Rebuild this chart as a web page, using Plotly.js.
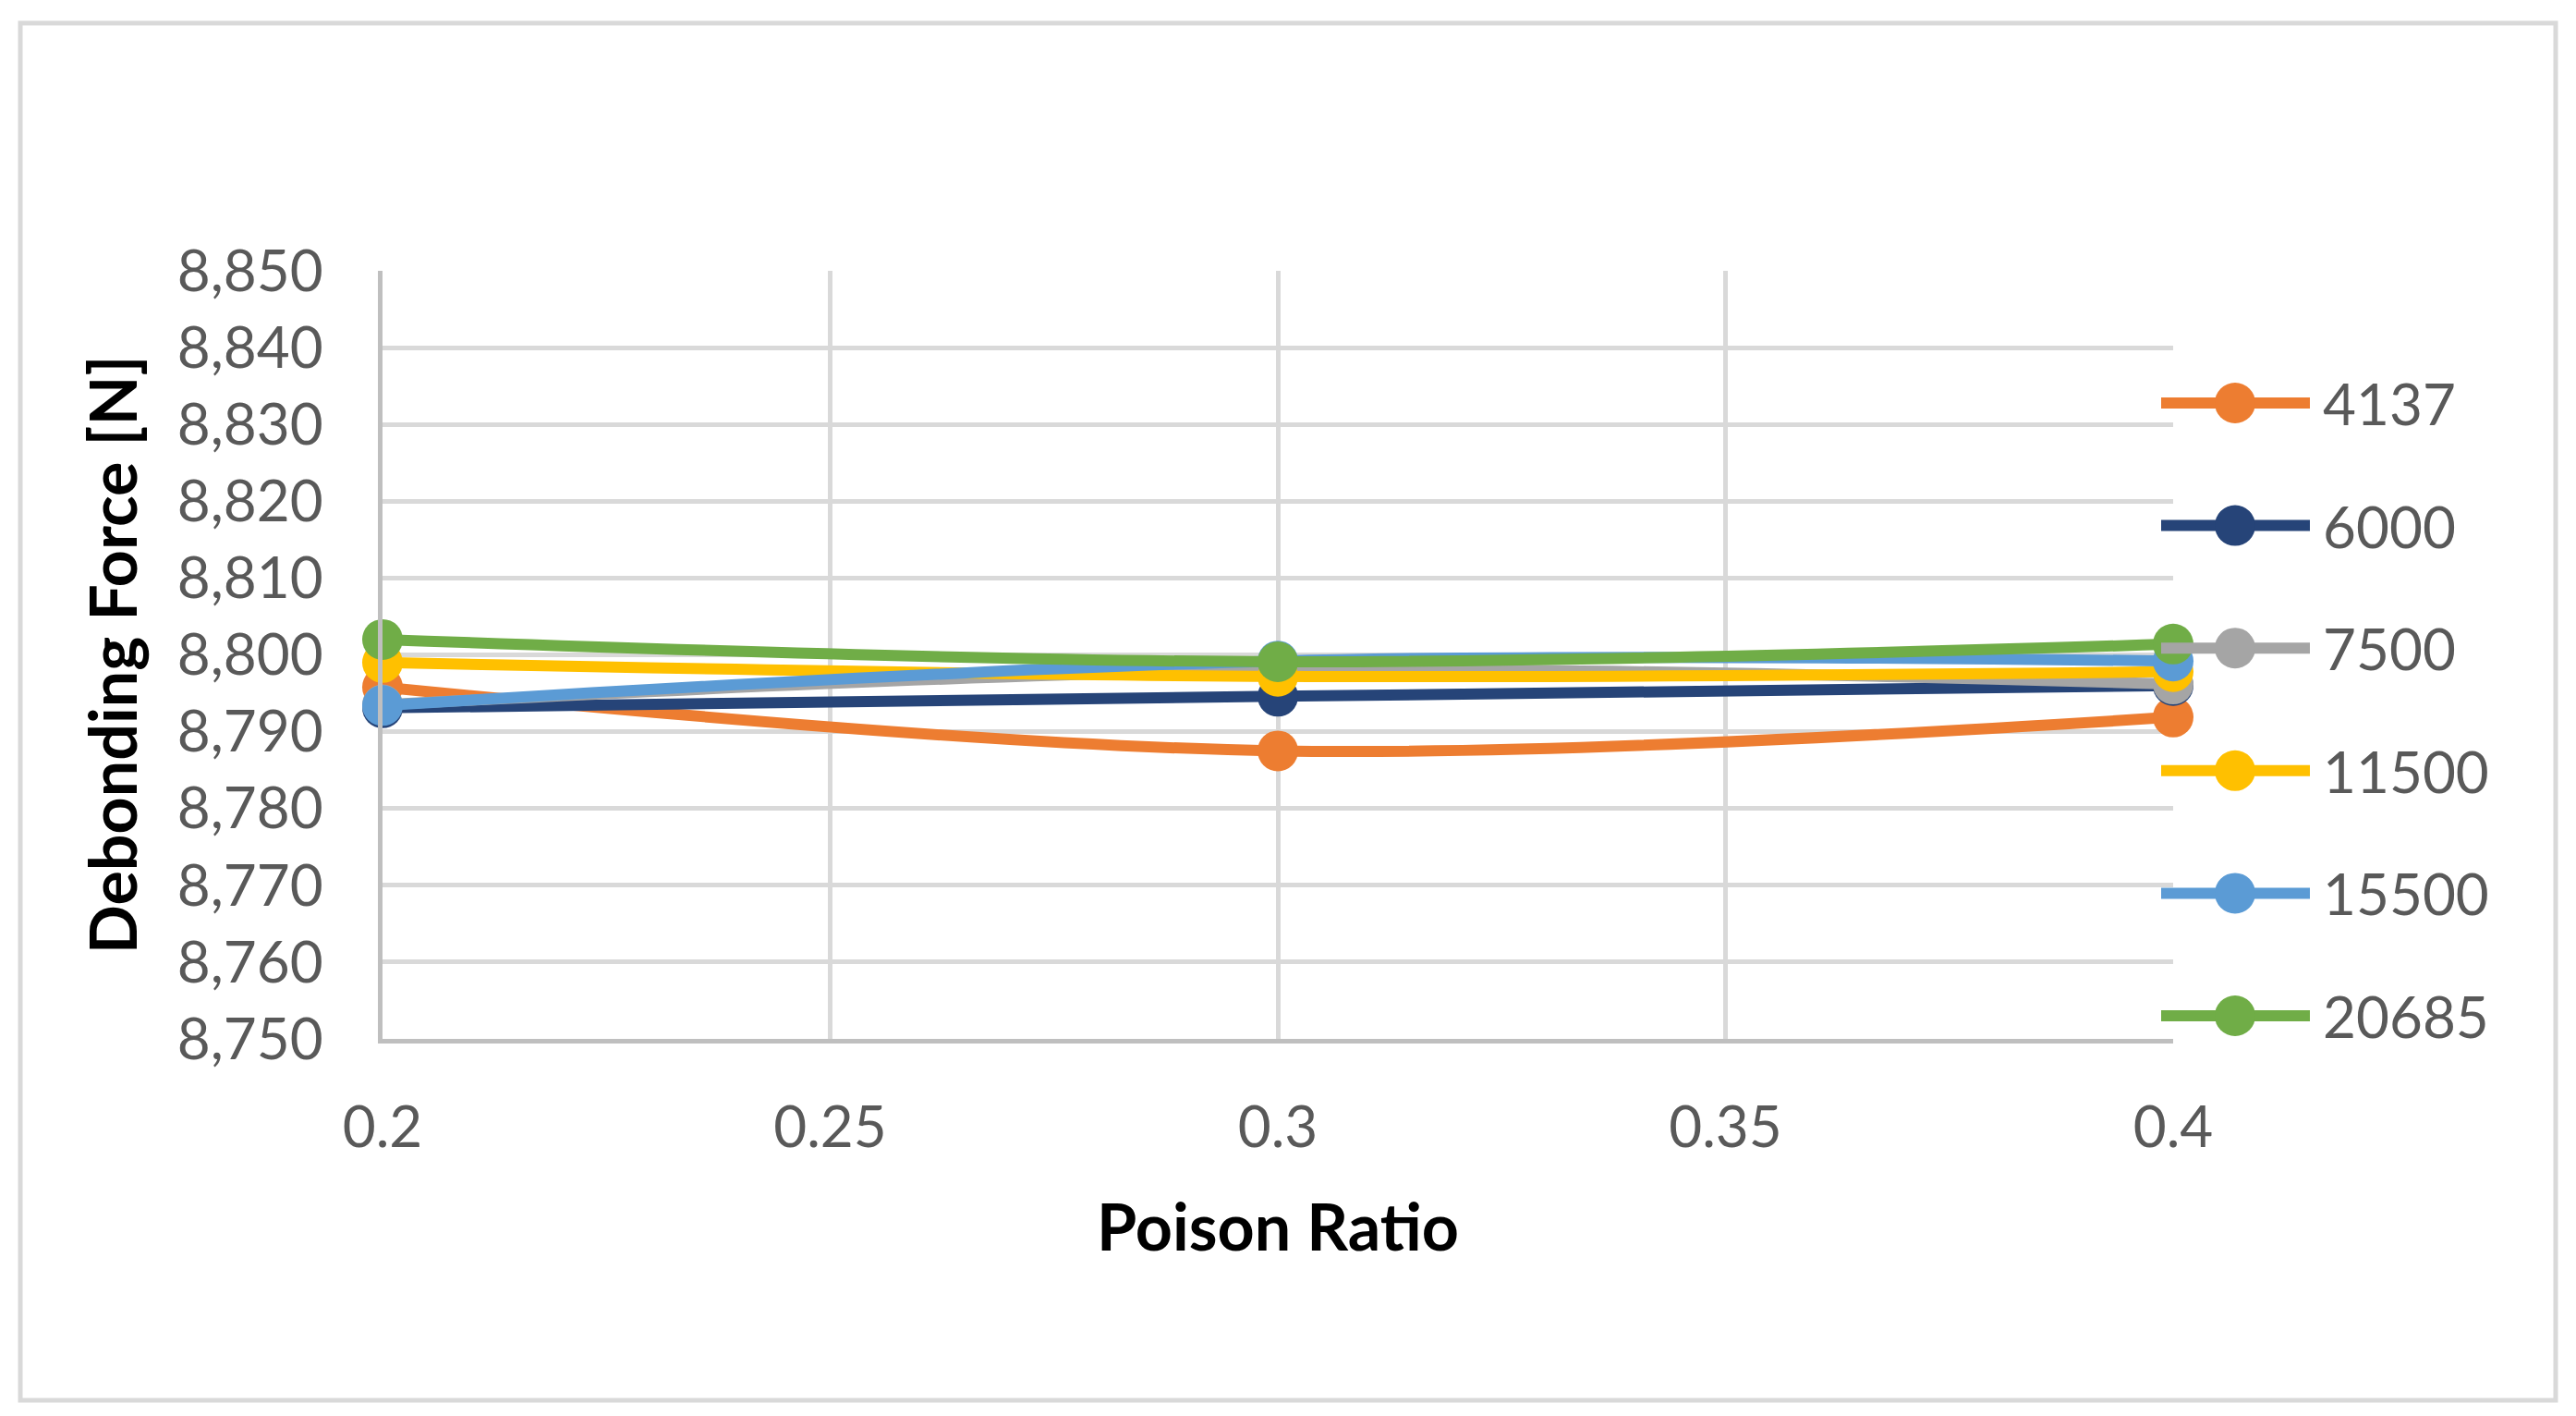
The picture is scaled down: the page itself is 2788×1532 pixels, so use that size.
<!DOCTYPE html>
<html>
<head>
<meta charset="utf-8">
<script src="https://cdn.plot.ly/plotly-3.0.1.min.js"></script>
<style>html,body{margin:0;padding:0;background:#fff;}#chart{width:2788px;height:1532px;}</style>
</head>
<body>
<div id="chart"></div>
<script>
// ---- data ----
const poissonRatio = [0.2, 0.3, 0.4];
const seriesNames = ['4137', '6000', '7500', '11500', '15500', '20685'];
const force4137  = [8795.8, 8787.5, 8791.9];
const force6000  = [8793.1, 8794.6, 8796.0];
const force7500  = [8793.5, 8798.0, 8796.2];
const force11500 = [8799.0, 8797.2, 8797.8];
const force15500 = [8793.4, 8799.2, 8799.2];
const force20685 = [8802.0, 8799.1, 8801.4];
const xTickVals = [0.2, 0.25, 0.3, 0.35, 0.4];
const xTickText = ['0.2', '0.25', '0.3', '0.35', '0.4'];
const yTickVals = [8750, 8760, 8770, 8780, 8790, 8800, 8810, 8820, 8830, 8840, 8850];

const seriesValues = [force4137, force6000, force7500, force11500, force15500, force20685];
const colors = ['#ED7D31', '#264478', '#A5A5A5', '#FFC000', '#5B9BD5', '#70AD47'];

// ---- layout geometry (px) ----
const W = 2788, H = 1532;
const M = {l: 414, r: 436, t: 293, b: 408};
const PW = W - M.l - M.r, PH = H - M.t - M.b;
const px2x = p => (p - M.l) / PW;
const py2y = p => (H - M.b - p) / PH;

const traces = seriesNames.map((n, i) => ({
  type: 'scatter',
  mode: 'lines+markers',
  name: n,
  x: poissonRatio,
  y: seriesValues[i],
  line: {color: colors[i], width: 12, shape: 'spline', smoothing: 1},
  marker: {color: colors[i], size: 44},
  cliponaxis: false,
  showlegend: false
}));

const shapes = [];
const annotations = [];
// outer chart border
shapes.push({type: 'rect', xref: 'paper', yref: 'paper', layer: 'below',
  x0: px2x(22), x1: px2x(2766), y0: py2y(1515), y1: py2y(25),
  line: {color: '#D9D9D9', width: 5}, fillcolor: 'rgba(0,0,0,0)'});

// legend (built from the series names/colours)
const legTop = 436, legStep = 132.6;
seriesNames.forEach((n, i) => {
  const cy = legTop + i * legStep;
  shapes.push({type: 'line', xref: 'paper', yref: 'paper',
    x0: px2x(2339), x1: px2x(2500), y0: py2y(cy), y1: py2y(cy),
    line: {color: colors[i], width: 12}});
  shapes.push({type: 'circle', xref: 'paper', yref: 'paper',
    x0: px2x(2419 - 22), x1: px2x(2419 + 22), y0: py2y(cy + 22), y1: py2y(cy - 22),
    line: {width: 0}, fillcolor: colors[i]});
  annotations.push({xref: 'paper', yref: 'paper', x: px2x(2512), y: py2y(cy),
    xanchor: 'left', yanchor: 'middle', showarrow: false, text: n,
    font: {family: 'Lato, sans-serif', size: 62, color: '#595959'}});
});

const layout = {
  width: W, height: H,
  margin: M,
  paper_bgcolor: '#ffffff', plot_bgcolor: '#ffffff',
  font: {family: 'Lato, sans-serif', color: '#595959'},
  showlegend: false,
  xaxis: {
    range: [0.2, 0.4], tickvals: xTickVals, ticktext: xTickText,
    showgrid: true, gridcolor: '#D9D9D9', gridwidth: 5,
    showline: true, linecolor: '#BFBFBF', linewidth: 5,
    zeroline: false, ticks: '', ticklabelstandoff: 38,
    tickfont: {family: 'Lato, sans-serif', size: 62, color: '#595959'},
    title: {text: 'Poison Ratio', standoff: 52,
      font: {family: 'Lato, sans-serif', size: 70, color: '#000000', weight: 'bold'}},
    automargin: false, fixedrange: true
  },
  yaxis: {
    range: [8750, 8850], tickvals: yTickVals, tickformat: ',d',
    showgrid: true, gridcolor: '#D9D9D9', gridwidth: 5,
    showline: true, linecolor: '#BFBFBF', linewidth: 5,
    zeroline: false, ticks: '', ticklabelstandoff: 47,
    tickfont: {family: 'Lato, sans-serif', size: 62, color: '#595959'},
    title: {text: 'Debonding Force [N]', standoff: 22,
      font: {family: 'Lato, sans-serif', size: 70, color: '#000000', weight: 'bold'}},
    automargin: false, fixedrange: true
  },
  shapes: shapes,
  annotations: annotations
};

Plotly.newPlot('chart', traces, layout, {staticPlot: true});
</script>
</body>
</html>
